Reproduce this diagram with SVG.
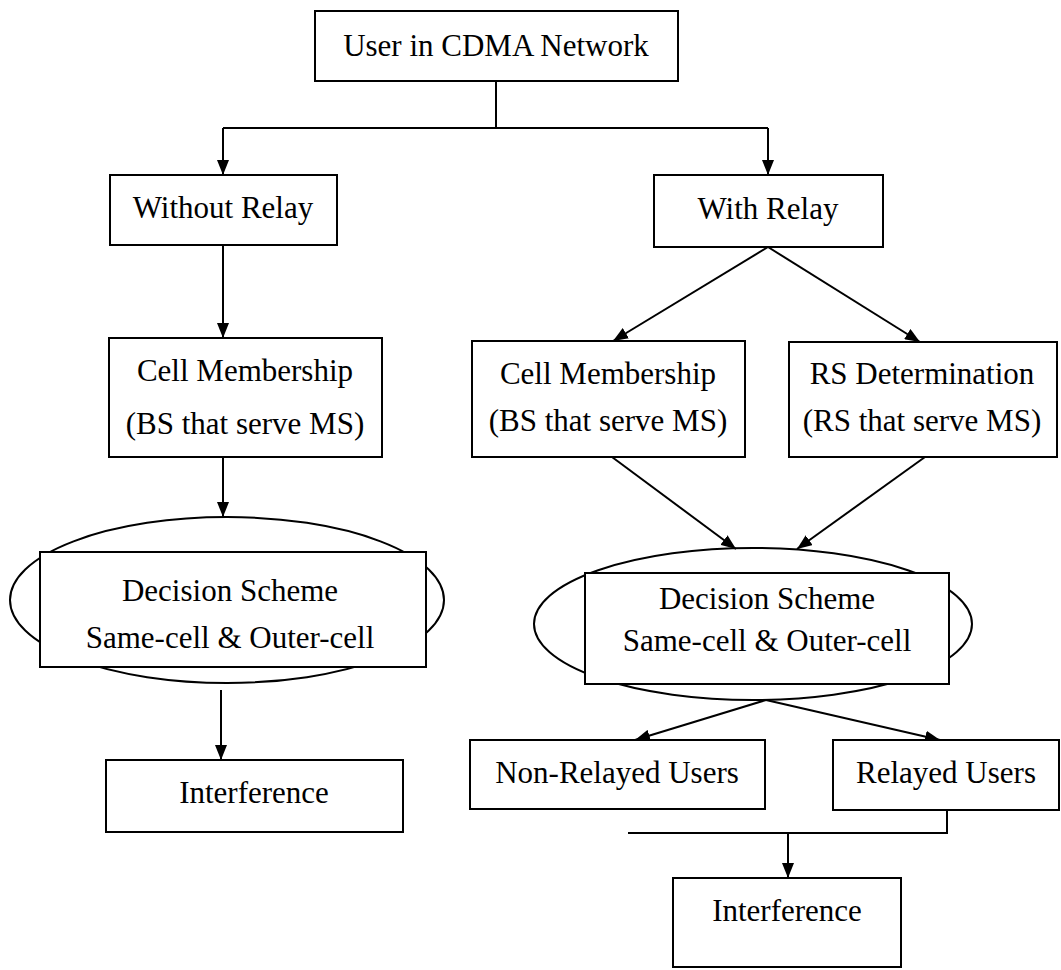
<svg xmlns="http://www.w3.org/2000/svg" width="1061" height="970" viewBox="0 0 1061 970">
<style>
.box{fill:#fff;stroke:#000;stroke-width:2}
.ell{fill:none;stroke:#000;stroke-width:2}
.t{font-family:"Liberation Serif","Times New Roman",serif;font-size:31px;fill:#000;text-anchor:middle}
.c{fill:none;stroke:#000;stroke-width:2}
</style>
<defs>
<marker id="ah" markerUnits="userSpaceOnUse" markerWidth="16" markerHeight="12" refX="15" refY="6" orient="auto">
<path d="M0,0 L15,6 L0,12 z" fill="#000"/>
</marker>
</defs>
<rect width="1061" height="970" fill="#fff"/>
<g id="connectors">
<path class="c" d="M496,81 V128 M223,128 H768"/>
<path class="c" d="M223,128 V175" marker-end="url(#ah)"/>
<path class="c" d="M768,128 V175" marker-end="url(#ah)"/>
<path class="c" d="M223,245 V338" marker-end="url(#ah)"/>
<path class="c" d="M223,457 V517" marker-end="url(#ah)"/>
<path class="c" d="M221,690 V760" marker-end="url(#ah)"/>
<path class="c" d="M768,247 L613,341" marker-end="url(#ah)"/>
<path class="c" d="M768,247 L920,342" marker-end="url(#ah)"/>
<path class="c" d="M612,457 L736,549" marker-end="url(#ah)"/>
<path class="c" d="M925,457 L797,549" marker-end="url(#ah)"/>
<path class="c" d="M766,700 L635,740" marker-end="url(#ah)"/>
<path class="c" d="M766,700 L940,740" marker-end="url(#ah)"/>
<path class="c" d="M947,810 V833 H628"/>
<path class="c" d="M788,833 V878" marker-end="url(#ah)"/>
</g>
<g id="n-user">
<rect class="box" x="315" y="11" width="363" height="70"/>
<text class="t" x="496" y="56">User in CDMA Network</text>
</g>
<g id="n-without">
<rect class="box" x="110" y="175" width="227" height="70"/>
<text class="t" x="223" y="218">Without Relay</text>
</g>
<g id="n-with">
<rect class="box" x="654" y="175" width="229" height="72"/>
<text class="t" x="768" y="219">With Relay</text>
</g>
<g id="n-cell-left">
<rect class="box" x="109" y="338" width="273" height="119"/>
<text class="t" x="245" y="381">Cell Membership</text>
<text class="t" x="245" y="434">(BS that serve MS)</text>
</g>
<g id="n-cell-right">
<rect class="box" x="472" y="341" width="273" height="116"/>
<text class="t" x="608" y="384">Cell Membership</text>
<text class="t" x="608" y="431">(BS that serve MS)</text>
</g>
<g id="n-rs">
<rect class="box" x="789" y="342" width="268" height="115"/>
<text class="t" x="922" y="384">RS Determination</text>
<text class="t" x="922" y="431">(RS that serve MS)</text>
</g>
<g id="n-decision-left">
<ellipse class="ell" cx="227" cy="600" rx="217" ry="83"/>
<rect class="box" x="40" y="552" width="386" height="115"/>
<text class="t" x="230" y="601">Decision Scheme</text>
<text class="t" x="230" y="648">Same-cell &amp; Outer-cell</text>
</g>
<g id="n-decision-right">
<ellipse class="ell" cx="753" cy="624" rx="219" ry="76"/>
<rect class="box" x="585" y="573" width="364" height="111"/>
<text class="t" x="767" y="609">Decision Scheme</text>
<text class="t" x="767" y="651">Same-cell &amp; Outer-cell</text>
</g>
<g id="n-interf-left">
<rect class="box" x="106" y="760" width="297" height="72"/>
<text class="t" x="254" y="803">Interference</text>
</g>
<g id="n-nonrelayed">
<rect class="box" x="470" y="740" width="295" height="69"/>
<text class="t" x="617" y="783">Non-Relayed Users</text>
</g>
<g id="n-relayed">
<rect class="box" x="833" y="740" width="226" height="70"/>
<text class="t" x="946" y="783">Relayed Users</text>
</g>
<g id="n-interf-right">
<rect class="box" x="673" y="878" width="228" height="89"/>
<text class="t" x="787" y="921">Interference</text>
</g>
</svg>
